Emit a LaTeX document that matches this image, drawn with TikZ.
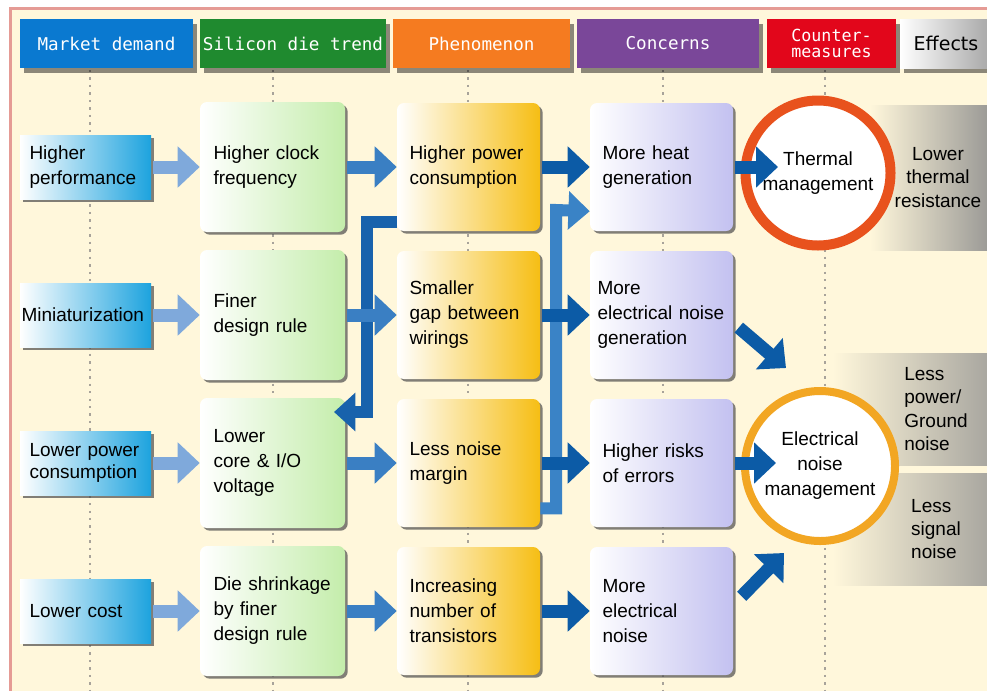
\documentclass[tikz,border=0pt]{standalone}
\usepackage{fontspec}
\setmainfont{Liberation Sans}
\newfontfamily\headfont{DejaVu Sans Mono}
\newfontfamily\effectfont{DejaVu Sans}
\usetikzlibrary{arrows.meta,shadows,calc}

\definecolor{paper}{HTML}{FFF7DB}
\definecolor{frameline}{HTML}{E59B95}
\definecolor{mkhead}{HTML}{0A79D0}
\definecolor{sihead}{HTML}{1F8A2F}
\definecolor{phhead}{HTML}{F57B20}
\definecolor{cohead}{HTML}{7A4799}
\definecolor{cmhead}{HTML}{E2061B}
\definecolor{mkfill}{HTML}{1DA3DE}
\definecolor{sifill}{HTML}{C4EDAB}
\definecolor{phfill}{HTML}{F6BE14}
\definecolor{cofill}{HTML}{C3C1F0}
\definecolor{arrlight}{HTML}{7FA9DB}
\definecolor{arrmid}{HTML}{3A7FC3}
\definecolor{arrdark}{HTML}{0C5BA6}
\definecolor{foldone}{HTML}{1862AC}
\definecolor{foldtwo}{HTML}{3A83C6}
\definecolor{thermring}{HTML}{E8521D}
\definecolor{noisering}{HTML}{F2A623}
\definecolor{guide}{HTML}{A8A39A}

\begin{document}
\begin{tikzpicture}[x=0.75pt,y=-0.75pt,
    every node/.style={font=\fontsize{14.25}{18.75}\selectfont},
    head/.style={minimum height=36.75pt, inner sep=0pt, text=white,
      font=\headfont\fontsize{13.2}{12}\selectfont,
      drop shadow={shadow xshift=3pt, shadow yshift=-3.5pt, opacity=.45, fill=black}},
    shadowed/.style={drop shadow={shadow xshift=2pt, shadow yshift=-2pt, opacity=.7, fill=black!70}},
    demand/.style={shadowed, minimum width=98.25pt, minimum height=48pt, left color=white,
      right color=mkfill, align=left, text width=84pt, inner xsep=0pt},
    trend/.style={shadowed, rounded corners=5.25pt, minimum width=108.75pt, minimum height=97.5pt,
      left color=white, right color=sifill, align=left, text width=88.5pt, inner xsep=0pt},
    phenom/.style={trend, minimum width=107.25pt, minimum height=96pt, right color=phfill},
    concern/.style={trend, minimum width=107.25pt, minimum height=96pt, right color=cofill},
    ring/.style={circle, fill=white, align=center, inner sep=0pt},
    effect/.style={left color=paper, right color=black!45, align=left, inner sep=0pt,
      font=\fontsize{14.25}{17.5}\selectfont},
    guideline/.style={guide, line width=1.5pt, dash pattern=on 1.8pt off 3.8pt},
    fatarrow/.style={line width=9.75pt, -{Triangle[width=30pt,length=16.5pt]}, shorten <=1.5pt},
    elbow/.style={line width=9pt, -{Triangle[width=28pt,length=16pt]}}
  ]
  \useasboundingbox (0,0) rectangle (987,690);
  \clip (0,0) rectangle (987,690);
  \fill[white] (0,0) rectangle (987,690);
  \draw[fill=paper, draw=frameline, line width=2.25pt] (10,8) rectangle (1000,700);

  % column guides
  \foreach \gx in {90,273,468,663,825}
    \draw[guideline] (\gx,70) -- (\gx,690);

  % effects
  \node[effect, minimum width=102pt, minimum height=108.75pt, align=center] (e1) at (938,177.5) {Lower\\thermal\\resistance};
  \node[effect, minimum width=154.5pt, minimum height=84pt] (e2) at (936,409) {Less\\power/\\Ground\\noise};
  \node[effect, minimum width=154.5pt, minimum height=84pt] (e3) at (936,529) {Less\\signal\\noise};

  % headers
  \node[head, fill=mkhead, minimum width=129.75pt] (hdemand) at (106.5,43.5) {Market demand};
  \node[head, fill=sihead, minimum width=139.5pt] (htrend) at (293,43.5) {Silicon die trend};
  \node[head, fill=phhead, minimum width=132.75pt] (hphen) at (481.5,43.5) {Phenomenon};
  \node[head, fill=cohead, minimum width=136.5pt] (hconc) at (668,43.5) {Concerns};
  \node[head, fill=cmhead, minimum width=96.75pt, align=center,
    font=\headfont\fontsize{12.5}{12}\selectfont] (hcount) at (831.5,43.5) {Counter-\\measures};
  \node[head, left color=white, right color=black!35, text=black, minimum width=69pt,
    font=\effectfont\fontsize{14.25}{14}\selectfont] (heff) at (946,43.5) {Effects};

  % market demand
  \node[demand] (m1) at (85.5,167) {Higher\\performance};
  \node[demand, text width=96pt] (m2) at (85.5,315) {Miniaturization};
  \node[demand, font=\fontsize{14.25}{16}\selectfont] (m3) at (85.5,463) {Lower power\\consumption};
  \node[demand] (m4) at (85.5,611) {Lower cost};

  % silicon die trend
  \node[trend] (s1) at (272.5,167) {Higher clock\\frequency};
  \node[trend] (s2) at (272.5,315) {Finer\\design rule};
  \node[trend] (s3) at (272.5,463) {Lower\\core \& I/O\\voltage};
  \node[trend] (s4) at (272.5,611) {Die shrinkage\\by finer\\design rule};

  % phenomenon
  \node[phenom] (p1) at (468.5,167) {Higher power\\consumption};
  \node[phenom] (p2) at (468.5,315) {Smaller\\gap between\\wirings};
  \node[phenom] (p3) at (468.5,463) {Less noise\\margin};
  \node[phenom] (p4) at (468.5,611) {Increasing\\number of\\transistors};

  % concerns
  \node[concern] (c1) at (661.5,167) {More heat\\generation};
  \node[concern, text width=96pt] (c2) at (661.5,315) {More\\electrical noise\\generation};
  \node[concern] (c3) at (661.5,463) {Higher risks\\of errors};
  \node[concern] (c4) at (661.5,611) {More\\electrical\\noise};

  % counter-measures
  \node[ring, draw=thermring, line width=7.5pt, minimum size=108.75pt] (thermal) at (818,173) {Thermal\\management};
  \node[ring, draw=noisering, line width=6pt, minimum size=112.5pt] (noise) at (820,466) {Electrical\\noise\\management};

  \coordinate (bend1) at (367,412);
  \coordinate (tip1) at (334,412);
  \coordinate (bend2) at (556,210);
  \coordinate (thermin) at (778,167);
  \coordinate (noisein) at (776,463);
  \coordinate (diag2) at (786,368);
  \coordinate (diag4) at (784,553);

  \draw[elbow, foldone] ($(p1.south west)+(0,-9)$) -| (bend1) -- (tip1);
  \draw[elbow, foldtwo] ($(p3.south east)+(0,-19)$) -| (bend2) -- ($(c1.south west)+(0,-20)$);

  \foreach \i in {1,...,4} {
    \draw[fatarrow, arrlight] (m\i) -- (s\i);
    \draw[fatarrow, arrmid] (s\i) -- (p\i);
    \draw[fatarrow, arrdark] (p\i) -- (c\i);
  }
  \draw[fatarrow, arrdark] (c1) -- (thermin);
  \draw[fatarrow, arrdark] (c3) -- (noisein);
  \draw[fatarrow, arrdark] ($(c2.south east)+(4,-53)$) -- (diag2);
  \draw[fatarrow, arrdark] ($(c4.north east)+(7,51)$) -- (diag4);
\end{tikzpicture}
\end{document}
